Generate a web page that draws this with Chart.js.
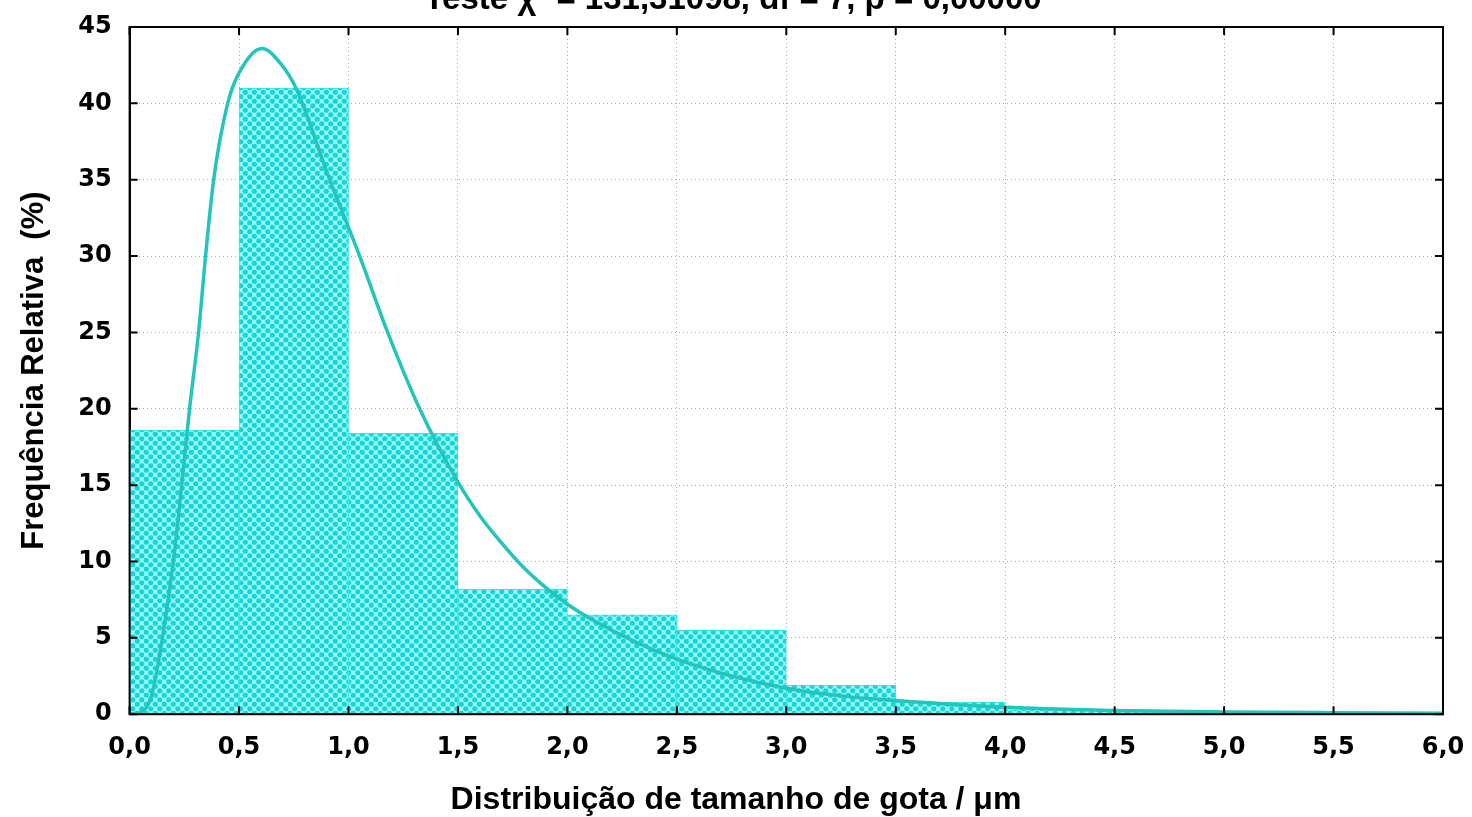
<!DOCTYPE html>
<html>
<head>
<meta charset="utf-8">
<script src="https://cdn.jsdelivr.net/npm/chart.js@4.4.1/dist/chart.umd.min.js"></script>
<style>
html,body{margin:0;padding:0;background:#fff;}
#wrap{width:1472px;height:817px;position:relative;}
</style>
</head>
<body>
<div id="wrap"><canvas id="c" width="1472" height="817"></canvas></div>
<script>
// ---- data ----
const chartTitle = "Teste \u03C7\u00B2 = 131,31098, df = 7, p = 0,00000";
const xAxisTitle = "Distribui\u00E7\u00E3o de tamanho de gota / \u03BCm";
const yAxisTitle = "Frequ\u00EAncia Relativa  (%)";
const binCenters = [0.25, 0.75, 1.25, 1.75, 2.25, 2.75, 3.25, 3.75, 4.25, 4.75, 5.25, 5.75];
const binFreq    = [18.6, 41.0, 18.4, 8.2, 6.5, 5.5, 1.9, 0.8, 0.3, 0.2, 0.1, 0.1];
const curveX = [0.0, 0.06, 0.1, 0.15, 0.2, 0.238, 0.274, 0.315, 0.347, 0.384, 0.448, 0.5, 0.605, 0.69, 0.76, 0.914, 1.051, 1.179, 1.325, 1.5, 1.6, 1.7, 1.8, 1.9, 2.0, 2.1, 2.3, 2.5, 2.75, 3.0, 3.25, 3.5, 4.0, 4.5, 5.0, 5.5, 6.0];
const curveY = [0.0, 0.2, 1.2, 5.0, 10.0, 15.0, 20.0, 25.0, 30.0, 35.0, 40.0, 42.0, 43.6, 42.6, 41.0, 35.0, 30.0, 25.0, 20.0, 15.2, 13.0, 11.2, 9.6, 8.3, 7.2, 6.3, 4.8, 3.6, 2.5, 1.7, 1.2, 0.9, 0.45, 0.25, 0.15, 0.1, 0.07];

// ---- pattern ----
function makePattern(){
  const t = document.createElement('canvas');
  t.width = 9; t.height = 9;
  const g = t.getContext('2d');
  g.fillStyle = '#9ef7f7';
  g.fillRect(0,0,9,9);
  g.fillStyle = '#14d6d6';
  [[2.25,2.25],[6.75,6.75],[-2.25,6.75],[6.75,-2.25],[11.25,2.25],[2.25,11.25]].forEach(p=>{
    g.beginPath(); g.arc(p[0],p[1],2.6,0,Math.PI*2); g.fill();
  });
  return g.createPattern(t,'repeat');
}
const ctx = document.getElementById('c').getContext('2d');
const pattern = makePattern();

const fmt = v => (Math.round(v*10)/10).toFixed(1).replace('.', ',');
const tickFont = {family:'"DejaVu Sans", "Liberation Sans", sans-serif', size:24, weight:'bold'};

const framePlugin = {
  id:'frame',
  afterDatasetsDraw(chart){
    const {ctx, chartArea:a, scales} = chart;
    ctx.save();
    ctx.strokeStyle = '#000';
    ctx.lineWidth = 2;
    ctx.strokeRect(a.left, a.top, a.right-a.left, a.bottom-a.top);
    const L = 8;
    ctx.beginPath();
    scales.y.ticks.forEach(t=>{
      const py = scales.y.getPixelForValue(t.value);
      ctx.moveTo(a.left, py); ctx.lineTo(a.left+L, py);
      ctx.moveTo(a.right, py); ctx.lineTo(a.right-L, py);
    });
    scales.x.ticks.forEach(t=>{
      const px = scales.x.getPixelForValue(t.value);
      ctx.moveTo(px, a.bottom); ctx.lineTo(px, a.bottom-L);
      ctx.moveTo(px, a.top); ctx.lineTo(px, a.top+L);
    });
    ctx.stroke();
    ctx.restore();
  },
  afterDraw(chart){
    const {ctx} = chart;
    ctx.save();
    ctx.fillStyle = '#000';
    ctx.textAlign = 'center';
    ctx.textBaseline = 'alphabetic';
    ctx.font = 'bold 33px "Liberation Sans", Arial, sans-serif';
    ctx.fillText(chartTitle, 733, 9);
    ctx.textBaseline = 'middle';
    ctx.font = 'bold 32px "Liberation Sans", Arial, sans-serif';
    ctx.fillText(xAxisTitle, 736, 800);
    ctx.restore();
  }
};

new Chart(ctx, {
  type:'bar',
  data:{
    datasets:[
      {
        type:'line',
        data: curveX.map((x,i)=>({x:x, y:curveY[i]})),
        borderColor:'#22c4bc',
        borderWidth:3.5,
        pointRadius:0,
        cubicInterpolationMode:'monotone',
        fill:false,
        order:0
      },
      {
        type:'bar',
        data: binCenters.map((x,i)=>({x:x, y:binFreq[i]})),
        backgroundColor: pattern,
        borderColor:'#2ee6e6',
        borderWidth:1,
        borderSkipped:false,
        barPercentage:1,
        categoryPercentage:1,
        order:1
      }
    ]
  },
  options:{
    responsive:false,
    animation:false,
    devicePixelRatio:1,
    layout:{padding:{top:10, right:6, left:16, bottom:36}},
    plugins:{legend:{display:false}, tooltip:{enabled:false}, title:{display:false}},
    scales:{
      x:{
        type:'linear', min:0, max:6, offset:false,
        grid:{offset:false, color:'#a8a8a8', lineWidth:1, drawTicks:false},
        border:{display:true, color:'#000', width:2, dash:[1,3]},
        ticks:{stepSize:0.5, callback:v=>fmt(v), color:'#000', padding:19, maxRotation:0, font:tickFont},
        afterFit: s => { s.paddingRight = 29; }
      },
      y:{
        min:0, max:45,
        grid:{color:'#a8a8a8', lineWidth:1, drawTicks:false},
        border:{display:true, color:'#000', width:2, dash:[1,3]},
        ticks:{stepSize:5, color:'#000', padding:18, font:tickFont},
        title:{display:true, text:yAxisTitle, color:'#000', padding:{top:0,bottom:7},
               font:{family:'"Liberation Sans", Arial, sans-serif', size:31, weight:'bold'}},
        afterFit: s => { s.paddingTop = 27; }
      }
    }
  },
  plugins:[framePlugin]
});
</script>
</body>
</html>
